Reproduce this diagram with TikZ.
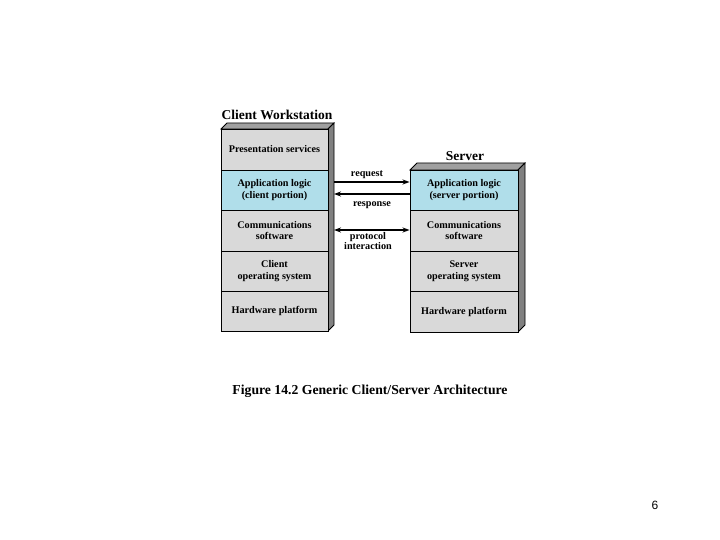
\documentclass[tikz,border=0pt]{standalone}
\usepackage{fontspec}
\setmainfont{Liberation Serif}
\newfontfamily\pagefont{Liberation Sans}
\usetikzlibrary{arrows.meta}
\definecolor{rowgray}{RGB}{217,217,217}
\definecolor{rowblue}{RGB}{176,222,234}
\definecolor{sidegray}{RGB}{128,128,128}
\definecolor{topgray}{RGB}{160,160,160}
\begin{document}
\begin{tikzpicture}[x=1pt,y=-1pt,
  layer/.style={draw=black,line width=0.9pt,fill=rowgray,minimum width=#1,inner sep=0pt,
     align=center,font=\fontsize{10.2}{11.8}\selectfont\bfseries},
  layer/.default=107pt,
  blue/.style={fill=rowblue},
  side/.style={draw=black,line width=0.8pt,fill=sidegray},
  topf/.style={draw=black,line width=0.8pt,fill=topgray},
  conn/.style={line width=1.3pt,-{Stealth[length=7pt,width=5pt]}},
  dconn/.style={line width=1.3pt,{Stealth[length=7pt,width=5pt]}-{Stealth[length=7pt,width=5pt]}},
  lbl/.style={font=\fontsize{10.2}{10.8}\selectfont\bfseries,inner sep=0pt,align=center},
  title/.style={font=\fontsize{13.5}{14}\selectfont\bfseries,inner sep=0pt}]
\useasboundingbox (0,0) rectangle (720,540);
% ---------- Client ----------
\path[topf] (221,129) -- (227,123) -- (334,123) -- (328,129) -- cycle;
\path[side] (328,129) -- (334,123) -- (334,325) -- (328,331) -- cycle;
\node[layer=107pt,minimum height=41pt] (c1) at (274.5,149.5) {Presentation services};
\node[layer=107pt,minimum height=40pt,blue] (c2) at (274.5,190) {Application logic\\(client portion)};
\node[layer=107pt,minimum height=41pt] (c3) at (274.5,230.5) {Communications\\software};
\node[layer=107pt,minimum height=40pt] (c4) at (274.5,271) {Client\\operating system};
\node[layer=107pt,minimum height=40pt] (c5) at (274.5,311) {Hardware platform};
\node[title] (ct) at (277,115) {Client Workstation};
% ---------- Server ----------
\path[topf] (410,170) -- (417,163) -- (525,163) -- (518,170) -- cycle;
\path[side] (518,170) -- (525,163) -- (525,325) -- (518,332) -- cycle;
\node[layer=108pt,minimum height=40pt,blue] (s2) at (464,190) {Application logic\\(server portion)};
\node[layer=108pt,minimum height=41pt] (s3) at (464,230.5) {Communications\\software};
\node[layer=108pt,minimum height=40pt] (s4) at (464,271) {Server\\operating system};
\node[layer=108pt,minimum height=41pt] (s5) at (464,311.5) {Hardware platform};
\node[title] (st) at (465,156) {Server};
% ---------- Connectors ----------
\coordinate (creq) at (334,182);
\coordinate (cres) at (334,194);
\coordinate (cpro) at (334,230);
\draw[conn] (creq) -- (creq -| s2.west);
\draw[conn] (cres -| s2.west) -- (cres);
\draw[dconn] (cpro) -- (cpro -| s3.west);
\node[lbl] (lreq) at (367,175) {request};
\node[lbl] (lres) at (372,205) {response};
\node[lbl] (lpro) at (368,241) {protocol\\interaction};
% ---------- Caption ----------
\node[font=\fontsize{13.7}{14}\selectfont\bfseries,inner sep=0pt] (cap) at (370,391) {Figure 14.2 Generic Client/Server Architecture};
\node[font=\pagefont\fontsize{12}{13}\selectfont,inner sep=0pt] (pg) at (655,505) {6};
\end{tikzpicture}
\end{document}
